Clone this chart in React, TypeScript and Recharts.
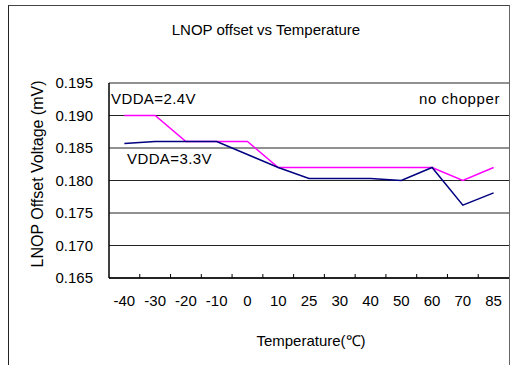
import { LineChart, Line, XAxis, YAxis, CartesianGrid } from 'recharts'

const temps = ['-40', '-30', '-20', '-10', '0', '10', '25', '30', '40', '50', '60', '70', '85']
const vdda24 = [0.19, 0.19, 0.186, 0.186, 0.186, 0.182, 0.182, 0.182, 0.182, 0.182, 0.182, 0.18, 0.182]
const vdda33 = [0.1857, 0.186, 0.186, 0.186, 0.184, 0.182, 0.1803, 0.1803, 0.1803, 0.18, 0.182, 0.1762, 0.1781]
const yTicks = [0.165, 0.17, 0.175, 0.18, 0.185, 0.19, 0.195]

const data = temps.map((t, i) => ({ t, v24: vdda24[i], v33: vdda33[i] }))

const W = 510
const H = 365
const margin = { top: 83, right: 1, bottom: 57, left: 49 }
const yAxisW = 60
const plotW = W - margin.left - yAxisW - margin.right
const half = plotW / temps.length / 2
const font = '"Liberation Sans", Arial, sans-serif'

// category labels plus Excel-style inner tick marks between categories
const XTick = (props: any) => {
  const { x, y, payload, index } = props
  return (
    <g>
      {index < temps.length - 1 && (
        <line x1={x + half} x2={x + half} y1={y} y2={y - 4} stroke="#000" />
      )}
      <text x={x} y={y + 28} textAnchor="middle" fontSize={15} fontFamily={font} fill="#000">
        {payload.value}
      </text>
    </g>
  )
}

export default function App() {
  return (
    <div style={{ position: 'absolute', left: 0, top: 0, width: W, height: H, overflow: 'hidden', background: '#fff' }}>
      <div
        style={{
          position: 'absolute',
          left: 8,
          top: 5,
          width: 500,
          height: 400,
          borderLeft: '1px solid #222',
          borderTop: '1px solid #444',
          borderRight: '1px solid #666',
        }}
      />
      <LineChart width={W} height={H} data={data} margin={margin} style={{ position: 'absolute', left: 0, top: 0 }}>
        <CartesianGrid vertical={false} stroke="#222" />
        <XAxis
          dataKey="t"
          height={30}
          padding={{ left: half, right: half }}
          tickSize={0}
          tickMargin={0}
          tick={<XTick />}
          axisLine={{ stroke: '#000', strokeWidth: 1.5 }}
          interval={0}
        />
        <YAxis
          width={yAxisW}
          domain={[0.165, 0.195]}
          ticks={yTicks}
          tickFormatter={(v: number) => v.toFixed(3)}
          tickSize={0}
          tickMargin={16}
          tick={{ fontSize: 15, fill: '#000', fontFamily: font }}
          axisLine={{ stroke: '#000', strokeWidth: 1.5 }}
        />
        <YAxis yAxisId="edge" orientation="right" width={0} domain={[0, 1]} tick={false} tickLine={false} axisLine={{ stroke: '#666' }} />
        <Line dataKey="v24" stroke="#FF00FF" strokeWidth={1.5} dot={false} isAnimationActive={false} />
        <Line dataKey="v33" stroke="#000080" strokeWidth={1.5} dot={false} isAnimationActive={false} />
      </LineChart>
      <svg width={W} height={H} style={{ position: 'absolute', left: 0, top: 0, pointerEvents: 'none' }} fontFamily={font} fill="#000">
        <text x={266} y={35} textAnchor="middle" fontSize={15}>LNOP offset vs Temperature</text>
        <text x={111} y={104} fontSize={15} letterSpacing={0.4}>VDDA=2.4V</text>
        <text x={127} y={164} fontSize={15} letterSpacing={0.4}>VDDA=3.3V</text>
        <text x={500} y={104} textAnchor="end" fontSize={15} letterSpacing={0.6}>no chopper</text>
        <text x={311} y={346} textAnchor="middle" fontSize={15}>Temperature(℃)</text>
        <text x={43} y={174} textAnchor="middle" fontSize={16} transform="rotate(-90, 43, 174)">LNOP Offset Voltage (mV)</text>
      </svg>
    </div>
  )
}
